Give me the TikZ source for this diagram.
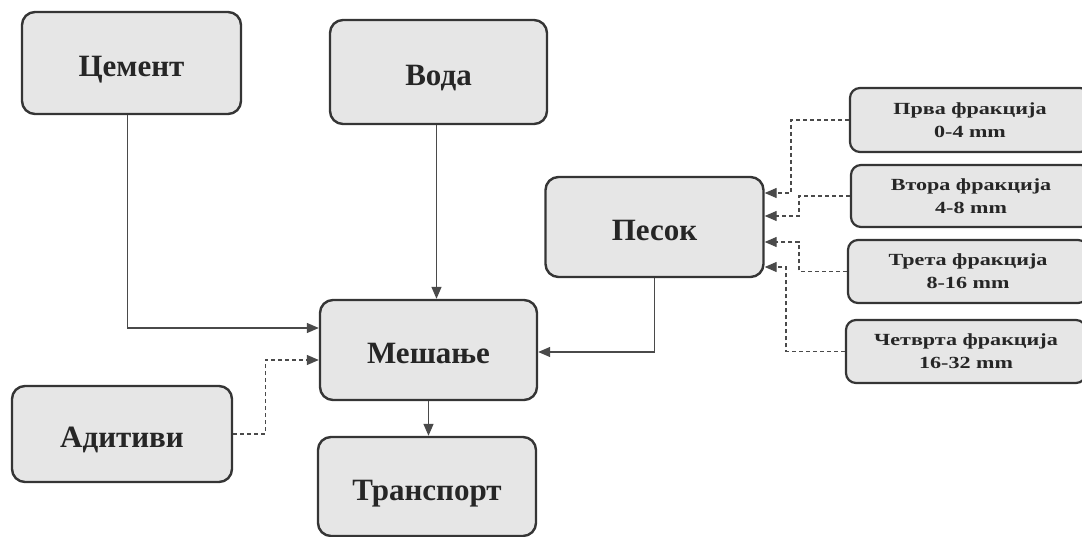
\documentclass[tikz,border=0pt]{standalone}
\usepackage{fontspec}
\setmainfont{Liberation Serif}
\newfontfamily\smallserif[FakeStretch=1.3]{Liberation Serif}
\usetikzlibrary{arrows.meta}
\definecolor{boxfill}{HTML}{E6E6E6}
\definecolor{boxline}{HTML}{353535}
\definecolor{conn}{HTML}{4A4A4A}
\begin{document}
\begin{tikzpicture}[x=1pt,y=-1pt,
  bigbox/.style={draw=boxline, fill=boxfill, line width=2.4pt, rounded corners=13pt,
    minimum width=#1, inner sep=0pt, text height=27pt, text depth=0pt,
    font=\bfseries\fontsize{31}{36}\selectfont, text=black!85},
  smallbox/.style={draw=boxline, fill=boxfill, line width=2.2pt, rounded corners=10pt,
    minimum width=240pt, inner sep=0pt, align=center, font=\smallserif\bfseries\fontsize{17}{23}\selectfont, text=black!85},
  arr/.style={draw=conn, line width=1.3pt, -{Triangle[length=12pt,width=10pt]}},
  darr/.style={draw=conn, line width=1.3pt, dash pattern=on 4pt off 3pt, -{Triangle[length=12pt,width=10pt]}}
]
\path[use as bounding box] (0,0) rectangle (1082,537);
\begin{scope}
\clip (0,0) rectangle (1082,537);
\node[bigbox=219pt, minimum height=102pt] (cem) at (131.5,63) {Цемент};
\node[bigbox=217pt, minimum height=104pt] (voda) at (438.5,72) {Вода};
\node[bigbox=218pt, minimum height=100pt] (pes) at (654.5,227) {Песок};
\node[bigbox=217pt, minimum height=100pt] (mes) at (428.5,350) {Мешање};
\node[bigbox=220pt, minimum height=96pt] (adit) at (122,434) {Адитиви};
\node[bigbox=218pt, minimum height=99pt] (tran) at (427,486.5) {Транспорт};

\node[smallbox, minimum height=64pt] (f1) at (970,120) {Прва фракција\\0-4 mm};
\node[smallbox, minimum height=62pt] (f2) at (971,196) {Втора фракција\\4-8 mm};
\node[smallbox, minimum height=63pt] (f3) at (968,271.5) {Трета фракција\\8-16 mm};
\node[smallbox, minimum height=63pt] (f4) at (966,351.5) {Четврта фракција\\16-32 mm};

\draw[arr] ([xshift=-4pt]cem.south) |- ([yshift=22pt]mes.west);
\draw[arr] ([xshift=-2pt]voda.south) -- ([xshift=-2pt]voda.south |- mes.north);
\draw[arr] (pes.south) |- ([yshift=-2pt]mes.east);
\draw[darr] (adit.east) -- ++(32,0) |- ([yshift=-10pt]mes.west);
\draw[arr] (mes.south) -- (mes.south |- tran.north);

\draw[darr] (f1.west) -- ++(-58,0) |- ([yshift=34pt]pes.east);
\draw[darr] (f2.west) -- ++(-51,0) |- ([yshift=11pt]pes.east);
\draw[darr] (f3.west) -- ++(-48,0) |- ([yshift=-15pt]pes.east);
\draw[darr] (f4.west) -- ++(-59,0) |- ([yshift=-40pt]pes.east);
\end{scope}
\end{tikzpicture}
\end{document}
